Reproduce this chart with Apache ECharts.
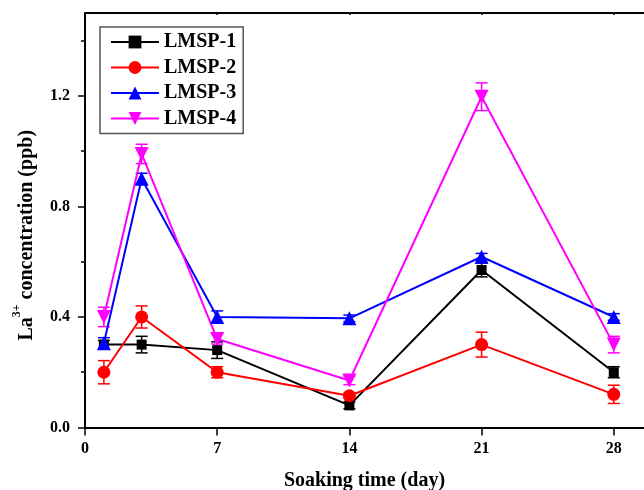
<!DOCTYPE html>
<html>
<head>
<meta charset="utf-8">
<script src="https://cdn.jsdelivr.net/npm/echarts@6/dist/echarts.min.js"></script>
<style>
  html, body { margin: 0; padding: 0; background: #fff; }
  #chart { width: 644px; height: 490px; }
</style>
</head>
<body>
<div id="chart"></div>
<script>
// soaking days
var days = [1, 3, 7, 14, 21, 28];
var names = ['LMSP-1', 'LMSP-2', 'LMSP-3', 'LMSP-4'];
var colors = ['#000000', '#ff0000', '#0000ff', '#ff00ff'];
var symbols = ['rect', 'circle', 'triangle', 'path://M0,0 L10,0 L5,9 Z'];
var symbolSizes = [10, 13, 14, 14];

// La3+ concentration (ppb)
var lmsp1 = [0.30, 0.30, 0.28, 0.08, 0.57, 0.20];
var lmsp2 = [0.20, 0.40, 0.20, 0.115, 0.30, 0.12];
var lmsp3 = [0.305, 0.90, 0.40, 0.395, 0.618, 0.40];
var lmsp4 = [0.40, 0.99, 0.32, 0.17, 1.197, 0.30];

// error bar half widths
var err1 = [0.015, 0.03, 0.03, 0.012, 0.025, 0.02];
var err2 = [0.042, 0.04, 0.02, 0.01, 0.045, 0.033];
var err3 = [0.02, 0.02, 0.022, 0.012, 0.012, 0.012];
var err4 = [0.035, 0.035, 0.018, 0.015, 0.05, 0.03];

var xTicks = [0, 7, 14, 21, 28];
var yLabels = [0, 0.4, 0.8, 1.2];
var yMinor = [0.2, 0.6, 1.0, 1.4];

var values = [lmsp1, lmsp2, lmsp3, lmsp4];
var errs = [err1, err2, err3, err4];

var font = '"Times New Roman", "Liberation Serif", serif';

var chart = echarts.init(document.getElementById('chart'));

var series = [];
values.forEach(function (vals, s) {
  var errData = days.map(function (d, i) {
    return [d, vals[i] - errs[s][i], vals[i] + errs[s][i]];
  });
  // error bars drawn under the lines
  series.push({
    type: 'custom',
    name: names[s] + ' err',
    silent: true,
    z: 1,
    renderItem: function (params, api) {
      var top = api.coord([api.value(0), api.value(2)]);
      var bot = api.coord([api.value(0), api.value(1)]);
      var w = 6;
      var st = { stroke: colors[s], lineWidth: 1.5 };
      return {
        type: 'group',
        children: [
          { type: 'line', shape: { x1: top[0], y1: top[1], x2: bot[0], y2: bot[1] }, style: st },
          { type: 'line', shape: { x1: top[0] - w, y1: top[1], x2: top[0] + w, y2: top[1] }, style: st },
          { type: 'line', shape: { x1: bot[0] - w, y1: bot[1], x2: bot[0] + w, y2: bot[1] }, style: st }
        ]
      };
    },
    encode: { x: 0, y: [1, 2] },
    data: errData
  });
  series.push({
    type: 'line',
    name: names[s],
    z: 2,
    data: days.map(function (d, i) { return [d, vals[i]]; }),
    symbol: symbols[s],
    symbolSize: symbolSizes[s],
    color: colors[s],
    lineStyle: { width: 2, color: colors[s] },
    itemStyle: { color: colors[s] }
  });
});

chart.setOption({
  animation: false,
  grid: { left: 85, top: 13, right: 0, bottom: 62.5, containLabel: false, outerBoundsMode: 'none' },
  legend: {
    orient: 'vertical',
    left: 100,
    top: 27,
    data: names,
    itemWidth: 48,
    itemHeight: 16,
    itemGap: 5.5,
    itemTextGap: 4,
    padding: [5, 7, 5, 10],
    borderColor: '#555',
    borderWidth: 1.5,
    textStyle: { fontFamily: font, fontWeight: 'bold', fontSize: 20, color: '#000' }
  },
  xAxis: [{
    type: 'value',
    min: 0,
    max: 29.6,
    name: 'Soaking time (day)',
    nameLocation: 'middle',
    nameGap: 43,
    nameTextStyle: { fontFamily: font, fontWeight: 'bold', fontSize: 20, color: '#000' },
    axisLine: { lineStyle: { color: '#000', width: 2 } },
    axisTick: { show: true, inside: false, length: 8, lineStyle: { color: '#000', width: 1.5 }, customValues: xTicks },
    axisLabel: { fontFamily: font, fontWeight: 'bold', fontSize: 16, color: '#000', margin: 13, customValues: xTicks },
    splitLine: { show: false }
  }, {
    type: 'value',
    position: 'top',
    min: 0,
    max: 29.6,
    axisLine: { show: true, onZero: false, lineStyle: { color: '#000', width: 2 } },
    axisTick: { show: true, inside: true, length: 2, lineStyle: { color: '#000', width: 1.5 }, customValues: xTicks },
    axisLabel: { show: false },
    splitLine: { show: false }
  }],
  yAxis: [{
    type: 'value',
    min: 0,
    max: 1.5,
    name: '{a|La}{s|3+}{a| concentration (ppb)}',
    nameLocation: 'middle',
    nameGap: 48,
    nameTextStyle: {
      fontFamily: font, fontWeight: 'bold', fontSize: 20, color: '#000',
      padding: [0, 30, 0, 0],
      rich: {
        a: { fontFamily: font, fontWeight: 'bold', fontSize: 20, color: '#000', lineHeight: 26, verticalAlign: 'bottom' },
        s: { fontFamily: font, fontWeight: 'bold', fontSize: 12, color: '#000', lineHeight: 26, verticalAlign: 'top' }
      }
    },
    axisLine: { show: true, lineStyle: { color: '#000', width: 2 } },
    axisTick: { show: true, inside: false, length: 7, lineStyle: { color: '#000', width: 1.5 }, customValues: yLabels },
    axisLabel: {
      fontFamily: font, fontWeight: 'bold', fontSize: 16, color: '#000', margin: 15,
      customValues: yLabels,
      formatter: function (v) { return v.toFixed(1); }
    },
    splitLine: { show: false }
  }, {
    type: 'value',
    min: 0,
    max: 1.5,
    position: 'left',
    axisLine: { show: false },
    axisTick: { show: true, inside: false, length: 4, lineStyle: { color: '#000', width: 1.5 }, customValues: yMinor },
    axisLabel: { show: false },
    splitLine: { show: false }
  }],
  series: series
});
</script>
</body>
</html>
